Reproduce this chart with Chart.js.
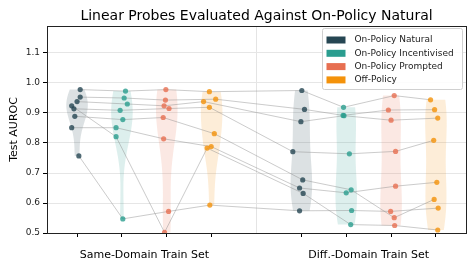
<!DOCTYPE html>
<html>
<head>
<meta charset="utf-8">
<script src="https://cdn.jsdelivr.net/npm/chart.js@4.4.1/dist/chart.umd.min.js"></script>
<style>
  html, body { margin: 0; padding: 0; background: #fff; }
  #wrap { width: 476px; height: 272px; }
</style>
</head>
<body>
<div id="wrap"><canvas id="chart" width="476" height="272"></canvas></div>
<script>
// Probes evaluated against on-policy natural data: violins + strip points,
// grey lines link the same probe across the eight train/test combinations.

const chartTitle = "Linear Probes Evaluated Against On-Policy Natural";
const categories = ["Same-Domain Train Set", "Diff.-Domain Train Set"];
const seriesNames = ["On-Policy Natural", "On-Policy Incentivised", "On-Policy Prompted", "Off-Policy"];
const seriesColors = ["#264653", "#2a9d8f", "#e76f51", "#f4920a"];
const yTicks = [0.5, 0.6, 0.7, 0.8, 0.9, 1.0, 1.1];

// one value per probe (same order in every array)
const sameNatural      = [0.978, 0.953, 0.938, 0.914, 0.889, 0.851, 0.924, 0.757];
const sameIncentivised = [0.973, 0.950, 0.930, 0.909, 0.878, 0.851, 0.821, 0.547];
const samePrompted     = [0.978, 0.943, 0.924, 0.915, 0.885, 0.814, 0.502, 0.572];
const sameOffPolicy    = [0.971, 0.946, 0.938, 0.919, 0.831, 0.788, 0.783, 0.593];
const diffNatural      = [0.975, 0.912, 0.871, 0.771, 0.677, 0.650, 0.632, 0.574];
const diffIncentivised = [0.919, 0.892, 0.891, 0.764, 0.644, 0.634, 0.528, 0.575];
const diffPrompted     = [0.958, 0.910, 0.876, 0.772, 0.551, 0.656, 0.525, 0.572];
const diffOffPolicy    = [0.944, 0.911, 0.883, 0.809, 0.612, 0.669, 0.510, 0.583];

// strip-plot jitter (in category units)
const jitter = [
  [0.07, 0.07, 0, -0.07, -0.05, -0.12, -0.12, 0.04],
  [0.08, 0.05, 0.12, -0.04, 0.02, -0.13, -0.13, 0.02],
  [-0.02, -0.03, -0.06, 0.05, -0.08, -0.07, -0.05, 0.04],
  [-0.05, 0.09, -0.18, -0.05, 0.06, -0.01, -0.1, -0.04],
  [0.01, 0.07, -0.01, -0.19, 0.03, -0.04, 0.04, -0.04],
  [-0.06, -0.07, -0.05, 0.07, 0.11, 0, 0.1, 0.12],
  [0.07, -0.06, 0, 0.1, 0.07, 0.1, 0.08, -0.01],
  [-0.12, -0.03, 0.04, -0.05, -0.04, 0.02, 0.04, 0.05],
];

const groups = [
  [sameNatural, sameIncentivised, samePrompted, sameOffPolicy],
  [diffNatural, diffIncentivised, diffPrompted, diffOffPolicy],
];

const FONT = "'DejaVu Sans', 'Liberation Sans', sans-serif";

function alpha(hex, a) {
  const n = parseInt(hex.slice(1), 16);
  return `rgba(${(n >> 16) & 255},${(n >> 8) & 255},${n & 255},${a})`;
}

// flatten into columns: x position = group*5 + series
const columns = [];
groups.forEach((g, gi) => {
  g.forEach((vals, si) => {
    columns.push({ pos: gi * 5 + si, vals, color: seriesColors[si], jit: jitter[gi * 4 + si] });
  });
});

const nProbes = sameNatural.length;
const lineSets = [];
for (let p = 0; p < nProbes; p++) {
  lineSets.push({
    type: "scatter",
    showLine: true,
    data: columns.map((c) => ({ x: c.pos + c.jit[p], y: c.vals[p] })),
    borderColor: "rgba(140,140,140,0.5)",
    borderWidth: 0.9,
    pointRadius: 0,
    order: 2,
  });
}
const pointSets = columns.map((c) => ({
  type: "scatter",
  data: c.vals.map((v, i) => ({ x: c.pos + c.jit[i], y: v })),
  backgroundColor: alpha(c.color, 0.8),
  borderWidth: 0,
  pointRadius: 2.6,
  order: 1,
}));

// gaussian kde, scott bandwidth, cut at data range, same max width for all
const violinPlugin = {
  id: "violins",
  beforeDatasetsDraw(chart) {
    const { ctx, chartArea, scales } = chart;
    const xs = scales.x, ys = scales.y;
    const halfW = 0.24;
    ctx.save();
    ctx.beginPath();
    ctx.rect(chartArea.left, chartArea.top, chartArea.right - chartArea.left, chartArea.bottom - chartArea.top);
    ctx.clip();
    columns.forEach((c) => {
      const v = c.vals, n = v.length;
      const mean = v.reduce((a, b) => a + b, 0) / n;
      const sd = Math.sqrt(v.reduce((a, b) => a + (b - mean) ** 2, 0) / (n - 1));
      const bw = sd * Math.pow(n, -0.2);
      const lo = Math.min(...v), hi = Math.max(...v);
      const steps = 80, pts = [];
      let dmax = 0;
      for (let k = 0; k <= steps; k++) {
        const y = lo + (hi - lo) * k / steps;
        let d = 0;
        v.forEach((b) => { d += Math.exp(-0.5 * ((y - b) / bw) ** 2); });
        pts.push([y, d]);
        dmax = Math.max(dmax, d);
      }
      ctx.beginPath();
      pts.forEach(([y, d], k) => {
        const px = xs.getPixelForValue(c.pos + halfW * d / dmax), py = ys.getPixelForValue(y);
        k ? ctx.lineTo(px, py) : ctx.moveTo(px, py);
      });
      for (let k = pts.length - 1; k >= 0; k--) {
        const [y, d] = pts[k];
        ctx.lineTo(xs.getPixelForValue(c.pos - halfW * d / dmax), ys.getPixelForValue(y));
      }
      ctx.closePath();
      ctx.fillStyle = alpha(c.color, 0.16);
      ctx.fill();
    });
    ctx.restore();
  },
};

const framePlugin = {
  id: "frameLegend",
  afterDraw(chart) {
    const { ctx, chartArea: a } = chart;
    ctx.save();
    ctx.strokeStyle = "#222";
    ctx.lineWidth = 1;
    ctx.strokeRect(Math.round(a.left) + 0.5, Math.round(a.top) + 0.5, Math.round(a.right - a.left), Math.round(a.bottom - a.top));

    // title centred over the plot area
    ctx.fillStyle = "#000";
    ctx.font = `14px ${FONT}`;
    ctx.textAlign = "center";
    ctx.textBaseline = "middle";
    ctx.fillText(chartTitle, (a.left + a.right) / 2, 16);

    // legend box, top right
    const bx = 322.5, by = 28.5, bw = 140, bh = 61;
    ctx.textAlign = "left";
    ctx.fillStyle = "rgba(255,255,255,0.85)";
    ctx.strokeStyle = "#d0d0d0";
    ctx.beginPath();
    ctx.roundRect(bx, by, bw, bh, 2);
    ctx.fill();
    ctx.stroke();
    ctx.font = `9px ${FONT}`;
    seriesNames.forEach((name, i) => {
      const cy = by + 11.5 + i * 13.3;
      ctx.fillStyle = seriesColors[i];
      ctx.fillRect(bx + 4, cy - 3.5, 19, 7);
      ctx.fillStyle = "#222";
      ctx.fillText(name, bx + 32, cy);
    });
    ctx.restore();
  },
};

const realTicks = [0, 1, 2, 3, 5, 6, 7, 8];

new Chart(document.getElementById("chart"), {
  type: "scatter",
  data: { datasets: [...pointSets, ...lineSets] },
  options: {
    responsive: false,
    animation: false,
    layout: { padding: { left: 0, right: 10, top: 26, bottom: 0 } },
    plugins: {
      legend: { display: false },
      tooltip: { enabled: false },
      title: { display: false },
    },
    scales: {
      x: {
        type: "linear",
        min: -0.67,
        max: 8.67,
        afterBuildTicks: (s) => { s.ticks = [0, 1, 1.5, 2, 3, 4, 5, 6, 6.5, 7, 8].map((v) => ({ value: v })); },
        afterFit: (s) => { s.height = 39; },
        ticks: {
          autoSkip: false,
          maxRotation: 0,
          minRotation: 0,
          padding: 12,
          color: "#000",
          font: { family: FONT, size: 11 },
          callback: (v) => (v === 1.5 ? categories[0] : v === 6.5 ? categories[1] : ""),
        },
        grid: {
          color: (c) => (c.tick && c.tick.value === 4 ? "#e4e4e4" : "rgba(0,0,0,0)"),
          tickColor: (c) => (c.tick && realTicks.includes(c.tick.value) ? "#000" : "rgba(0,0,0,0)"),
          tickLength: 4,
        },
        border: { display: true, color: "#000", width: 1 },
      },
      y: {
        min: 0.5,
        max: 1.19,
        afterBuildTicks: (s) => { s.ticks = yTicks.map((v) => ({ value: v })); },
        afterFit: (s) => { s.width = 47; },
        ticks: {
          color: "#222",
          padding: 3,
          font: { family: FONT, size: 9 },
          callback: (v) => v.toFixed(1),
        },
        grid: { color: "#e6e6e6", tickColor: "#000", tickLength: 4 },
        border: { display: true, color: "#000", width: 1 },
        title: {
          display: true,
          text: "Test AUROC",
          color: "#000",
          font: { family: FONT, size: 11 },
          padding: { top: 8, bottom: 0 },
        },
      },
    },
  },
  plugins: [violinPlugin, framePlugin],
});
</script>
</body>
</html>
